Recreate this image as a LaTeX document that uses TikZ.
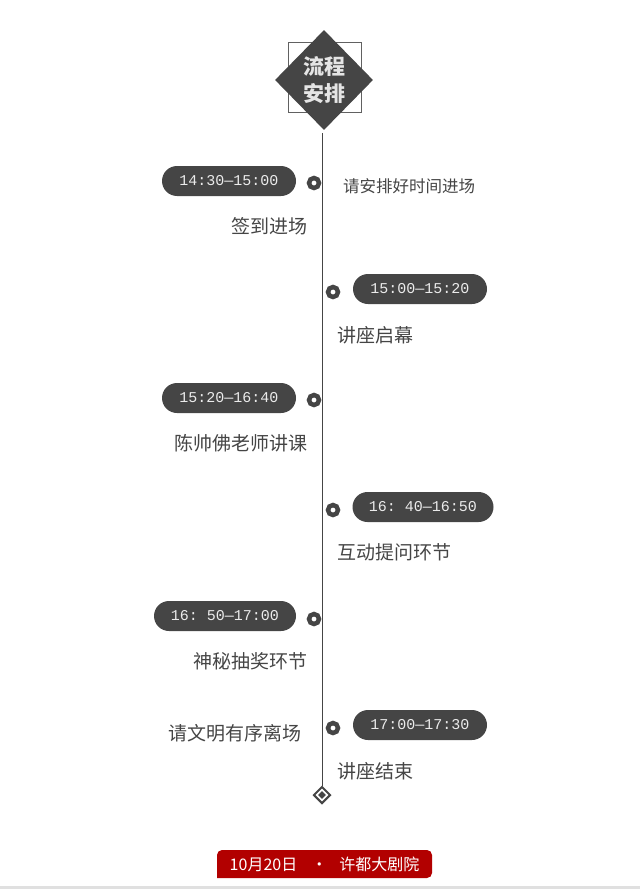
\documentclass[tikz,border=0pt]{standalone}
\usepackage{fontspec}
\setmainfont{Noto Sans CJK SC}
\setmonofont{Liberation Mono}
\usetikzlibrary{shapes.geometric}
\definecolor{ink}{HTML}{454545}
\definecolor{banner}{HTML}{B20000}
\begin{document}
\begin{tikzpicture}[
    x=1pt, y=-1pt,
    pill/.style={fill=ink, text=white!92!black, rounded corners=15pt, minimum height=30pt,
        inner sep=0pt, font=\fontsize{15}{15}\ttfamily},
    dot/.style={circle, draw=ink, line width=4.5pt, fill=white, minimum size=10pt, inner sep=0pt},
    title/.style={font=\fontsize{19}{19}\selectfont, text=ink, inner sep=0pt},
    note/.style={font=\fontsize{16.5}{16.5}\selectfont, text=ink, inner sep=0pt}
]
\useasboundingbox (0,0) rectangle (640,891);
% header
\draw[ink!85, line width=0.8pt] (288,42) rectangle (361,112);
\node[diamond, fill=ink, minimum width=98pt, minimum height=100pt, inner sep=0pt,
    text=white!90!black, align=center, font=\fontsize{21}{27}\bfseries] (top) at (324,80) {流程\\安排};
\node[diamond, draw=ink, line width=2pt, fill=white, minimum size=17pt, inner sep=0pt] (end) at (322,795) {};
\node[diamond, fill=ink, minimum size=8pt, inner sep=0pt] at (end) {};
\draw[ink, line width=1pt] (top.south) ++(-2,3) coordinate (start) -- (end.north);

% left items
\node[pill, minimum width=134pt] (t1) at (229,181) {14:30—15:00};
\node[dot] (d1) at (314,183) {};
\node[note, anchor=west] (n1) at (343,186) {请安排好时间进场};
\node[title, anchor=east] (l1) at (308,226) {签到进场};

\node[pill, minimum width=134pt] (t3) at (229,398) {15:20—16:40};
\node[dot] (d3) at (314,400) {};
\node[title, anchor=east] (l3) at (308,443) {陈帅佛老师讲课};

\node[pill, minimum width=142pt] (t5) at (225,616) {16: 50—17:00};
\node[dot] (d5) at (314,619) {};
\node[title, anchor=east] (l5) at (308,661) {神秘抽奖环节};

% right items
\node[dot] (d2) at (333,292) {};
\node[pill, minimum width=134pt] (t2) at (420,289) {15:00—15:20};
\node[title, anchor=west] (l2) at (337,335) {讲座启幕};

\node[dot] (d4) at (333,510) {};
\node[pill, minimum width=141pt] (t4) at (423,507) {16: 40—16:50};
\node[title, anchor=west] (l4) at (337,552) {互动提问环节};

\node[dot] (d6) at (333,728) {};
\node[pill, minimum width=134pt] (t6) at (420,725) {17:00—17:30};
\node[title, anchor=west] (l6) at (337,771) {讲座结束};
\node[title, anchor=east] (n6) at (302,733) {请文明有序离场};

% footer
\fill[banner, rounded corners=5pt] (217,878) -- (217,850) -- (432,850) -- (432,878) [sharp corners] -- cycle;
\node[text=white, font=\fontsize{16}{16}\selectfont, inner sep=0pt] (date) at (324.5,864) {10月20日\hspace{14pt}·\hspace{12pt}许都大剧院};
\fill[black!12] (0,885.5) rectangle (640,889);
\end{tikzpicture}
\end{document}
